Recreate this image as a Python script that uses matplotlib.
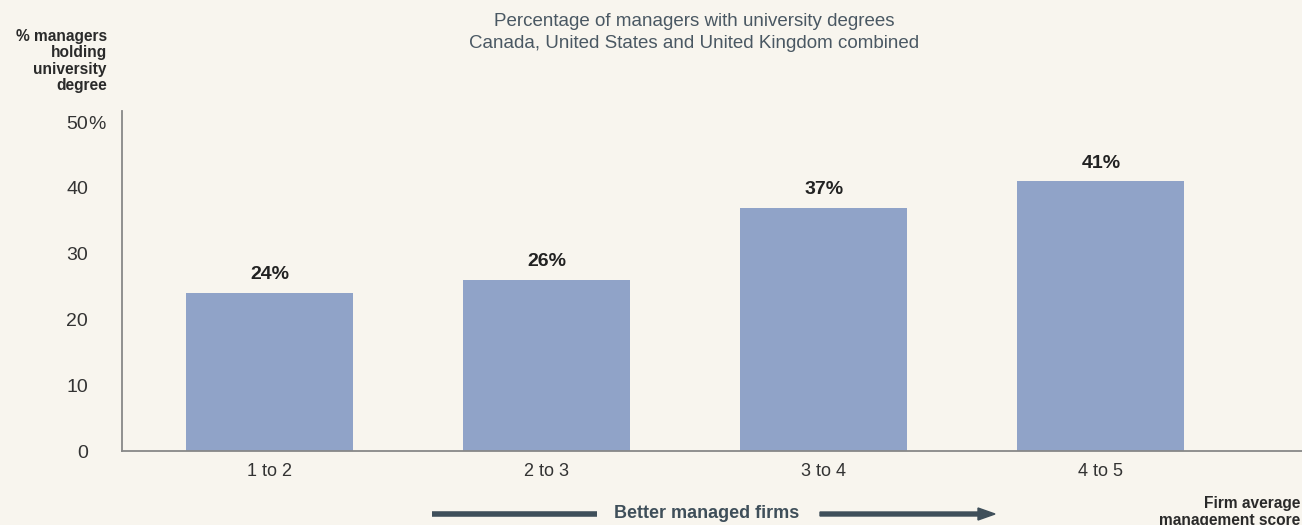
import matplotlib.pyplot as plt
from matplotlib.patches import FancyArrow

categories = ["1 to 2", "2 to 3", "3 to 4", "4 to 5"]
values = [24, 26, 37, 41]
yticks = [0, 10, 20, 30, 40, 50]
ytick_labels = ["0", "10", "20", "30", "40", "50"]

BG = "#f8f5ee"
BAR = "#90a3c8"
DARK = "#3f4f5a"

plt.rcParams['font.family'] = ['Liberation Sans', 'DejaVu Sans']

fig = plt.figure(figsize=(13.02, 5.25), dpi=100, facecolor=BG)
ax = fig.add_axes([122/1302, 1 - 451/525, 1 - 122/1302, (451 - 111)/525])
ax.set_facecolor(BG)

x = list(range(len(categories)))
ax.bar(x, values, width=0.603, color=BAR, zorder=2)
for xi, v in zip(x, values):
    ax.text(xi, v + 1.5, f"{v}%", ha="center", va="bottom", fontsize=14,
            fontweight="bold", color="#222222")

ax.set_xlim(-0.534, 3.726)
ax.set_ylim(0, 51.7)
ax.set_yticks(yticks)
ax.set_yticklabels(ytick_labels)
ax.set_xticks(x)
ax.set_xticklabels(categories)
ax.tick_params(axis="x", length=0, labelsize=13, colors="#333333", pad=9)
ax.tick_params(axis="y", length=0, labelsize=14, colors="#333333", pad=24.5)

# percent sign hanging after the top tick label
ax.text(-34/1180, 50, "%", transform=ax.get_yaxis_transform(), ha="left",
        va="center_baseline", fontsize=14, color="#333333")

for s in ["top", "right"]:
    ax.spines[s].set_visible(False)
for s in ["left", "bottom"]:
    ax.spines[s].set_color("#888888")
    ax.spines[s].set_linewidth(1.3)

fig.text(694/1302, 1 - 22/525, "Percentage of managers with university degrees",
         ha="center", va="center", fontsize=13.5, color="#4a5863")
fig.text(694/1302, 1 - 44/525, "Canada, United States and United Kingdom combined",
         ha="center", va="center", fontsize=13.5, color="#4a5863")

fig.text(107/1302, 1 - 61/525, "% managers\nholding\nuniversity\ndegree",
         ha="right", va="center", fontsize=11.2, fontweight="bold",
         color="#2a2a2a", linespacing=1.1)

fig.text(1300/1302, 1 - 512/525, "Firm average\nmanagement score",
         ha="right", va="center", fontsize=11.2, fontweight="bold",
         color="#2a2a2a", linespacing=1.1)

# "Better managed firms" arrow
fig.add_artist(plt.Line2D([432/1302, 597/1302], [1 - 514/525, 1 - 514/525],
                          color=DARK, linewidth=4, solid_capstyle="butt",
                          transform=fig.transFigure))
fig.text(707/1302, 1 - 513/525, "Better managed firms", ha="center", va="center",
         fontsize=13, fontweight="bold", color=DARK)
fig.add_artist(FancyArrow(820/1302, 1 - 514/525, (978 - 820)/1302, 0,
                          width=4/525, head_width=12/525, head_length=17/1302,
                          length_includes_head=False, color=DARK,
                          transform=fig.transFigure))

fig.savefig("out.png", dpi=100, facecolor=BG)
